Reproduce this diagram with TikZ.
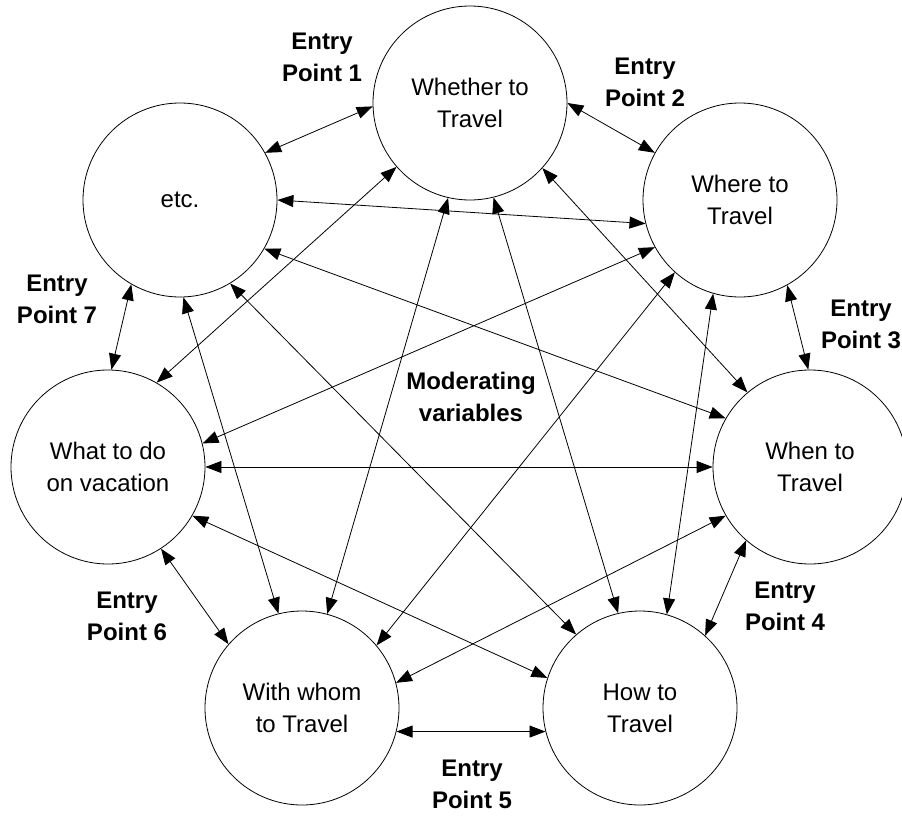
\documentclass[tikz,border=0pt]{standalone}
\usepackage{fontspec}
\setmainfont{Liberation Sans}
\usetikzlibrary{arrows.meta}
\begin{document}
\begin{tikzpicture}[x=1pt,y=-1pt,
  topic/.style={circle,draw,line width=0.8pt,minimum size=194pt,inner sep=0pt,align=center,font=\fontsize{24}{32}\selectfont},
  entry/.style={align=center,font=\fontsize{24}{32}\selectfont\bfseries},
  link/.style={line width=0.8pt,{Triangle[length=16pt,width=12pt]}-{Triangle[length=16pt,width=12pt]}}]
\useasboundingbox (0,0) rectangle (902,816);
% topics
\node[topic] (whether) at (470,103) {Whether to\\Travel};
\node[topic] (where)   at (740,200) {Where to\\Travel};
\node[topic] (when)    at (810,467) {When to\\Travel};
\node[topic] (how)     at (640,708) {How to\\Travel};
\node[topic] (whom)    at (302,708) {With whom\\to Travel};
\node[topic] (what)    at (108,467) {What to do\\on vacation};
\node[topic] (etc)     at (180,200) {etc.};
% labels
\node[entry] (ep1) at (322,57)  {Entry\\Point 1};
\node[entry] (ep2) at (645,82)  {Entry\\Point 2};
\node[entry] (ep3) at (861,324) {Entry\\Point 3};
\node[entry] (ep4) at (785,606) {Entry\\Point 4};
\node[entry] (ep5) at (472,784) {Entry\\Point 5};
\node[entry] (ep6) at (127,616) {Entry\\Point 6};
\node[entry] (ep7) at (57,299)  {Entry\\Point 7};
\node[entry] (mod) at (471,397) {Moderating\\variables};
% adjacent links
\draw[link] (etc.29.5) -- (whether.182.4);
\draw[link] (whether.0) -- (where.151);
\draw[link] (where.-61) -- (when.91);
\draw[link] (when.229.7) -- (how.48.3);
\draw[link] (whom.-14.7) -- (how.194.2);
\draw[link] (what.-57) -- (whom.139.6);
\draw[link] (etc.240) -- (what.88.8);
% diagonals
\draw[link] (etc.0) -- (where.194.6);
\draw[link] (etc.-30.2) -- (when.150);
\draw[link] (etc.-59) -- (how.131.7);
\draw[link] (etc.-88.8) -- (whom.104.5);
\draw[link] (whether.221.6) -- (what.60);
\draw[link] (whether.257) -- (whom.75);
\draw[link] (whether.284.7) -- (how.103.6);
\draw[link] (whether.-42.1) -- (when.130.9);
\draw[link] (where.209.9) -- (what.14.7);
\draw[link] (where.228.2) -- (whom.40.9);
\draw[link] (where.254) -- (how.74.1);
\draw[link] (when.180) -- (what.0);
\draw[link] (when.210.5) -- (whom.15.2);
\draw[link] (what.-30.5) -- (how.162);
\end{tikzpicture}
\end{document}
